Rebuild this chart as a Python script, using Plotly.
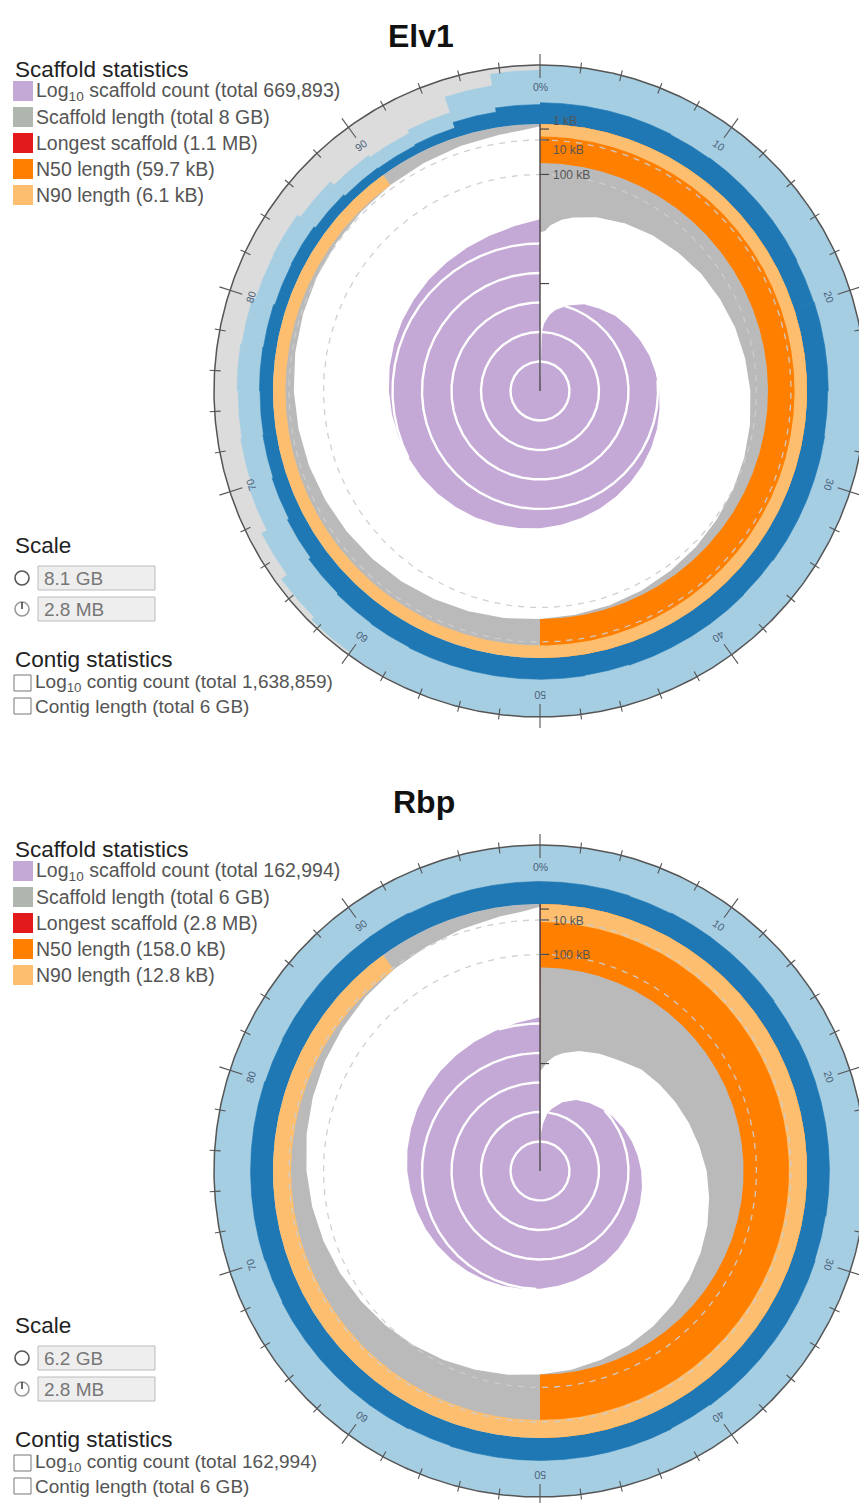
import numpy as np
import plotly.graph_objects as go

# ---------------------------------------------------------------------------
# Assembly profiles (values read along the cumulative % of each assembly)
# ---------------------------------------------------------------------------
PCT = [0, 0.5, 1, 2, 3, 5, 7.5, 10, 12.5, 15, 17.5, 20, 22.5, 25, 27.5, 30,
       32.5, 35, 37.5, 40, 42.5, 45, 47.5, 50, 52.5, 55, 57.5, 60, 62.5, 65,
       67.5, 70, 72.5, 75, 77.5, 80, 82.5, 85, 87.5, 90, 92.5, 95, 97.5, 99, 100]

# scaffold length (kB) at each cumulative percentage
ELV1_LEN_KB = [460, 450, 400, 350, 320, 280, 245, 220, 200, 180, 165, 150, 138,
               126, 116, 107, 99, 92, 85, 79, 73, 68, 64, 59.7, 54, 49, 44, 39,
               35, 31, 27, 23, 20, 17, 14.5, 12.5, 10.5, 9, 7.5, 6.1, 4.8, 3.5,
               2.2, 1.2, 0.2]
RBP_LEN_KB = [1100, 1050, 980, 900, 850, 780, 720, 670, 600, 560, 520, 480, 440,
              395, 360, 325, 295, 268, 243, 220, 200, 185, 170, 158, 145, 132,
              118, 105, 93, 82, 71, 61, 52, 44, 37, 31, 25.5, 21, 16.5, 12.8,
              9.5, 6.5, 3.5, 1.8, 0.3]

# cumulative scaffold count at each cumulative percentage
ELV1_COUNT = [1, 100, 200, 400, 630, 1120, 2000, 2800, 4000, 5000, 6300, 7900,
              9300, 11000, 12600, 14800, 17000, 19500, 22400, 25700, 29500,
              33900, 38900, 44700, 50100, 57500, 64600, 72400, 81300, 91200,
              100000, 110000, 120000, 132000, 145000, 158000, 174000, 191000,
              214000, 240000, 282000, 339000, 447000, 562000, 669893]
RBP_COUNT = [1, 20, 40, 90, 140, 280, 500, 710, 950, 1200, 1510, 1860, 2240,
             2690, 3160, 3630, 4170, 4790, 5500, 6170, 6920, 7760, 8710, 9770,
             10960, 12300, 13800, 15500, 17400, 19500, 21900, 24500, 27500,
             31600, 35500, 39800, 45700, 52500, 60300, 69200, 81300, 95500,
             120000, 141000, 162994]

# base composition (% GC and % N) in 2.5 % bins
COMP_EDGES = np.arange(0, 100.01, 2.5)
ELV1_GC = [36, 36, 36, 35, 36, 36, 36, 35, 36, 36, 35, 36, 36, 36, 35, 36, 36,
           36, 35, 36, 36, 36, 36, 35, 34, 32, 28, 25, 23, 22, 23, 22, 20, 21,
           18, 15, 14, 16, 26, 33]
ELV1_N = [0, 0, 0, 0, 0, 0, 0, 0, 0, 0, 0, 0, 0, 0, 0, 0, 0, 0, 0, 0, 0, 0, 0,
          1, 4, 10, 22, 32, 38, 40, 38, 40, 45, 44, 50, 58, 62, 56, 28, 8]
RBP_GC = [38, 38, 37, 38, 38, 38, 37, 38, 38, 38, 38, 37, 38, 38, 38, 38, 37,
          38, 38, 38, 38, 38, 37, 38, 38, 38, 38, 37, 38, 38, 38, 38, 37, 38,
          38, 38, 38, 37, 38, 38]
RBP_N = [0] * 40

# summary statistics
ELV1_SCAFFOLDS = 669893
ELV1_SIZE_GB = 8
ELV1_LONGEST_KB = 1100
ELV1_N50_KB = 59.7
ELV1_N90_KB = 6.1
ELV1_SCALE_GB = 8.1
ELV1_CONTIGS = 1638859
ELV1_CONTIG_GB = 6

RBP_SCAFFOLDS = 162994
RBP_SIZE_GB = 6
RBP_LONGEST_KB = 2800
RBP_N50_KB = 158.0
RBP_N90_KB = 12.8
RBP_SCALE_GB = 6.2
RBP_CONTIGS = 162994
RBP_CONTIG_GB = 6

SCALE_MAX_KB = 2800            # radius of the length scale (2.8 MB)
RING_TICKS = [0, 10, 20, 30, 40, 50, 60, 70, 80, 90]
LEN_TICKS_KB = [1, 10, 100, 1000]
LEN_GRID_KB = [10, 100]

# ---------------------------------------------------------------------------
# Layout constants (pixels)
# ---------------------------------------------------------------------------
W, H = 859, 1503
CX = 540
R_OUT = 326
R_CORE = 267
PX_PER_DECADE = 29.5

C_COUNT = "#c4a8d6"
C_LEN = "#bababa"
C_LONG = "#e31a1c"
C_N50 = "#ff7f00"
C_N90 = "#fdbf6f"
C_GC = "#1f78b4"
C_AT = "#a6cee3"
C_NN = "#dcdcdc"
C_AXIS = "#4a4a4a"
FONT = "Liberation Sans, Arial, sans-serif"

fig = go.Figure()


def xy(cy, pct, r):
    th = np.deg2rad(np.asarray(pct, dtype=float) * 3.6)
    r = np.asarray(r, dtype=float)
    return CX + r * np.sin(th), cy - r * np.cos(th)


def arc(cy, p0, p1, r, step=0.15):
    n = max(2, int(abs(p1 - p0) / step) + 1)
    ps = np.linspace(p0, p1, n)
    return xy(cy, ps, np.full(n, r))


def sector(cy, p0, p1, r_in, r_out):
    xo, yo = arc(cy, p0, p1, r_out)
    xi, yi = arc(cy, p1, p0, r_in)
    return list(xo) + list(xi), list(yo) + list(yi)


def add_poly(xs, ys, color, line_w=0.0):
    fig.add_trace(go.Scatter(
        x=xs, y=ys, mode="lines", fill="toself", fillcolor=color,
        line=dict(color=color, width=line_w), hoverinfo="skip"))


def add_line(xs, ys, color, width, dash=None):
    fig.add_trace(go.Scatter(
        x=xs, y=ys, mode="lines",
        line=dict(color=color, width=width, dash=dash), hoverinfo="skip"))


def len_thickness(kb):
    return R_CORE * np.sqrt(np.asarray(kb, dtype=float) / SCALE_MAX_KB)


def text(x, y, s, size, color="#555555", anchor="left", angle=0, bold=False,
         vanchor="middle"):
    fig.add_annotation(
        x=x, y=y, xref="x", yref="y", text=f"<b>{s}</b>" if bold else s,
        showarrow=False, xanchor=anchor, yanchor=vanchor, textangle=angle,
        font=dict(family=FONT, size=size, color=color))


def draw_snail(cy, len_kb, counts, gc, n_pct, longest, n50, n90, size_gb,
               labelled_ticks):
    # base composition ring
    xs, ys = sector(cy, 0, 100, R_CORE, R_OUT)
    add_poly(xs, ys, C_AT)
    width = R_OUT - R_CORE
    gx, gy, nx, ny = [], [], [], []
    for i in range(len(gc)):
        p0, p1 = COMP_EDGES[i], COMP_EDGES[i + 1]
        sx, sy = sector(cy, p0, p1, R_CORE, R_CORE + gc[i] / 100 * width)
        gx += sx + [None]
        gy += sy + [None]
        if n_pct[i] > 0:
            sx, sy = sector(cy, p0, p1, R_OUT - n_pct[i] / 100 * width, R_OUT)
            nx += sx + [None]
            ny += sy + [None]
    add_poly(gx, gy, C_GC, 0.6)
    if nx:
        add_poly(nx, ny, C_NN, 0.6)

    # scaffold length curve
    r_in = R_CORE - len_thickness(len_kb)
    xo, yo = arc(cy, 0, 100, R_CORE)
    xi, yi = xy(cy, PCT[::-1], r_in[::-1])
    add_poly(list(xo) + list(xi), list(yo) + list(yi), C_LEN)

    # N50 / N90 bands
    xs, ys = sector(cy, 0, 50, R_CORE - len_thickness(n50), R_CORE)
    add_poly(xs, ys, C_N50)
    xs, ys = sector(cy, 0, 90, R_CORE - len_thickness(n90), R_CORE)
    add_poly(xs, ys, C_N90)

    # longest scaffold wedge
    share = longest / (size_gb * 1e6) * 100
    xs, ys = sector(cy, 0, share, R_CORE - len_thickness(longest), R_CORE)
    add_poly(xs, ys, C_LONG)

    # length grid circles
    for kb in LEN_GRID_KB:
        xs, ys = arc(cy, 0, 100, R_CORE - len_thickness(kb))
        add_line(list(xs), list(ys), "rgba(205,205,205,0.95)", 1.3, "6px,6px")

    # log10 scaffold count spiral
    r_cnt = PX_PER_DECADE * np.log10(np.asarray(counts, dtype=float))
    px, py = xy(cy, PCT, r_cnt)
    add_poly([CX] + list(px) + [CX], [cy] + list(py) + [cy], C_COUNT)

    # decade rings inside the spiral
    top = int(np.floor(r_cnt[-1] / PX_PER_DECADE))
    wx, wy = [], []
    for k in range(1, top + 1):
        rk = k * PX_PER_DECADE
        i = int(np.argmax(r_cnt >= rk))
        f = (rk - r_cnt[i - 1]) / (r_cnt[i] - r_cnt[i - 1])
        p_start = PCT[i - 1] + f * (PCT[i] - PCT[i - 1])
        ax, ay = arc(cy, p_start, 100, rk)
        wx += list(ax) + [None]
        wy += list(ay) + [None]
    add_line(wx, wy, "white", 2.4)

    # radial length axis
    add_line([CX, CX], [cy, cy - R_CORE], C_AXIS, 1.4)
    tx, ty = [], []
    for kb in LEN_TICKS_KB:
        yk = cy - (R_CORE - len_thickness(kb))
        tx += [CX, CX + 9, None]
        ty += [yk, yk, None]
    add_line(tx, ty, C_AXIS, 1.2)
    for kb, lab, va in labelled_ticks:
        yk = cy - (R_CORE - len_thickness(kb))
        text(CX + 11, yk + 1, lab, 12, "#555555", vanchor=va)

    # outer frame, ticks and percentage labels
    xs, ys = arc(cy, 0, 100, R_OUT)
    add_line(list(xs), list(ys), "#555555", 1.5)
    tkx, tky = [], []
    for p in range(0, 100, 2):
        major = p % 10 == 0
        r0, r1 = (313, 337) if major else (320, 331)
        ex, ey = xy(cy, [p, p], [r0, r1])
        tkx += list(ex) + [None]
        tky += list(ey) + [None]
    add_line(tkx, tky, "#555555", 1.1)
    for p in RING_TICKS:
        lx, ly = xy(cy, [p], [304])
        lab = "0%" if p == 0 else str(p)
        text(float(lx[0]), float(ly[0]), lab, 10.5, "#4a6078", "center",
             angle=p * 3.6)


def draw_key(y0, scaffolds, size_gb, longest, n50, n90, scale_gb,
             contigs, contig_gb):
    text(13, y0 + 69, "Scaffold statistics", 22.5, "#222222")
    items = [
        (C_COUNT, f"Log<sub>10</sub> scaffold count (total {scaffolds:,})"),
        ("#aeb6ae", f"Scaffold length (total {size_gb} GB)"),
        (C_LONG, f"Longest scaffold ({longest / 1000:.1f} MB)"),
        (C_N50, f"N50 length ({n50:.1f} kB)"),
        (C_N90, f"N90 length ({n90:.1f} kB)"),
    ]
    for j, (col, lab) in enumerate(items):
        yc = y0 + 91 + 26 * j
        fig.add_shape(type="rect", xref="x", yref="y", x0=13, x1=33,
                      y0=yc - 10, y1=yc + 10, fillcolor=col,
                      line=dict(width=0))
        text(34, yc, lab, 19.5, "#555555")

    text(13, y0 + 545, "Scale", 22.5, "#222222")
    for j, lab in enumerate([f"{scale_gb:.1f} GB",
                             f"{SCALE_MAX_KB / 1000:.1f} MB"]):
        yc = y0 + 578 + 31 * j
        fig.add_shape(type="circle", xref="x", yref="y", x0=15, x1=29,
                      y0=yc - 7, y1=yc + 7,
                      line=dict(color="#555555" if j == 0 else "#999999",
                                width=1.6))
        if j == 1:
            fig.add_shape(type="line", xref="x", yref="y", x0=22, x1=22,
                          y0=yc - 7, y1=yc, line=dict(color="#444444",
                                                       width=1.6))
        fig.add_shape(type="rect", xref="x", yref="y", x0=38, x1=155,
                      y0=yc - 12, y1=yc + 12, fillcolor="#eeeeee",
                      line=dict(color="#bbbbbb", width=1))
        text(42, yc, lab, 19, "#777777")

    text(13, y0 + 659, "Contig statistics", 22.5, "#222222")
    for j, lab in enumerate([f"Log<sub>10</sub> contig count (total {contigs:,})",
                             f"Contig length (total {contig_gb} GB)"]):
        yc = y0 + 683 + 23 * j
        fig.add_shape(type="rect", xref="x", yref="y", x0=14, x1=31,
                      y0=yc - 8, y1=yc + 8, fillcolor="white",
                      line=dict(color="#777777", width=1))
        text(33, yc, lab, 19, "#555555")


# Elv1
draw_snail(391, ELV1_LEN_KB, ELV1_COUNT, ELV1_GC, ELV1_N, ELV1_LONGEST_KB,
           ELV1_N50_KB, ELV1_N90_KB, ELV1_SCALE_GB,
           [(1, "1 kB", "bottom"), (10, "10 kB", "top"),
            (100, "100 kB", "middle")])
draw_key(0, ELV1_SCAFFOLDS, ELV1_SIZE_GB, ELV1_LONGEST_KB, ELV1_N50_KB,
         ELV1_N90_KB, ELV1_SCALE_GB, ELV1_CONTIGS, ELV1_CONTIG_GB)
text(421, 36, "Elv1", 32, "#111111", "center", bold=True)

# Rbp
draw_snail(1171, RBP_LEN_KB, RBP_COUNT, RBP_GC, RBP_N, RBP_LONGEST_KB,
           RBP_N50_KB, RBP_N90_KB, RBP_SCALE_GB,
           [(10, "10 kB", "middle"), (100, "100 kB", "middle")])
draw_key(780, RBP_SCAFFOLDS, RBP_SIZE_GB, RBP_LONGEST_KB, RBP_N50_KB,
         RBP_N90_KB, RBP_SCALE_GB, RBP_CONTIGS, RBP_CONTIG_GB)
text(424, 802, "Rbp", 32, "#111111", "center", bold=True)

fig.update_layout(
    width=W, height=H, margin=dict(l=0, r=0, t=0, b=0),
    paper_bgcolor="white", plot_bgcolor="white", showlegend=False,
    xaxis=dict(range=[0, W], visible=False, fixedrange=True),
    yaxis=dict(range=[H, 0], visible=False, fixedrange=True),
)
fig.write_html("out.html")
